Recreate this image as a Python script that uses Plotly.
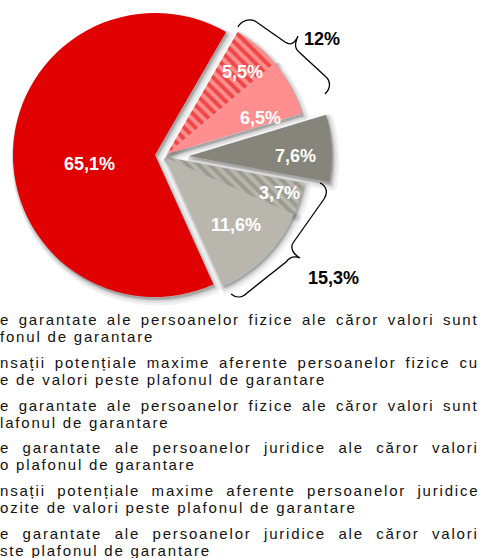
import plotly.graph_objects as go

W, H = 484, 558

# ---------------- data ----------------
labels = [
    "Depozite garantate PF sub plafon",
    "Compensații potențiale maxime PF",
    "Depozite garantate PF peste plafon",
    "Depozite garantate PJ sub plafon",
    "Compensații potențiale maxime PJ",
    "Depozite garantate PJ peste plafon",
]
values = [65.1, 5.5, 6.5, 7.6, 3.7, 11.6]
value_text = ["65,1%", "5,5%", "6,5%", "7,6%", "3,7%", "11,6%"]
group_totals = ["12%", "15,3%"]

legend_line1 = [
    "e garantate ale persoanelor fizice ale căror valori sunt",
    "nsații potențiale maxime aferente persoanelor fizice cu",
    "e garantate ale persoanelor fizice ale căror valori sunt",
    "e garantate ale persoanelor juridice ale căror valori",
    "nsații potențiale maxime aferente persoanelor juridice",
    "e garantate ale persoanelor juridice ale căror valori",
]
legend_line2 = [
    "fonul de garantare",
    "e de valori peste plafonul de garantare",
    "lafonul de garantare",
    "o plafonul de garantare",
    "ozite de valori peste plafonul de garantare",
    "ste plafonul de garantare",
]

# ---------------- styles ----------------
base_colors = ["#E00000", "#FF8F8F", "#FF8F8F", "#85857B", "#B9B6AE", "#B9B6AE"]
pattern_shapes = ["", "\\", "", "", "\\", ""]
pattern_fg = ["#E00000", "#E00000", "#FF8F8F", "#85857B", "#7E7E74", "#B9B6AE"]
ROTATION = 155.7
TRANSPARENT = "rgba(0,0,0,0)"

# slice groups (exploded together): indices, centre (px), radius (px)
groups = [
    ([0], 155, 155, 142),
    ([1, 2], 167, 154, 141),
    ([3], 189, 156, 143),
    ([4, 5], 165, 157, 141),
]


def domain(cx, cy, r):
    return dict(x=[(cx - r) / W, (cx + r) / W], y=[1 - (cy + r) / H, 1 - (cy - r) / H])


def px(x, y):
    return f"{x / W:.5f},{1 - y / H:.5f}"


fig = go.Figure()

# soft shadows
shadow_layers = [(3, 4, 9, 0.05), (2, 3, 6, 0.07), (1, 2, 3, 0.09)]
for dx, dy, lw, a in shadow_layers:
    for idx, cx, cy, r in groups:
        col = f"rgba(0,0,0,{a})"
        fig.add_trace(go.Pie(
            values=values, labels=labels, sort=False, direction="clockwise",
            rotation=ROTATION, textinfo="none", hoverinfo="skip", showlegend=False,
            domain=domain(cx + dx, cy + dy, r),
            marker=dict(
                colors=[col if i in idx else TRANSPARENT for i in range(len(values))],
                line=dict(
                    color=[col if i in idx else TRANSPARENT for i in range(len(values))],
                    width=[lw if i in idx else 0 for i in range(len(values))],
                ),
            ),
        ))

# main slices
for idx, cx, cy, r in groups:
    fig.add_trace(go.Pie(
        values=values, labels=labels, sort=False, direction="clockwise",
        rotation=ROTATION, textinfo="none", hoverinfo="label+value", showlegend=False,
        domain=domain(cx, cy, r),
        marker=dict(
            colors=[base_colors[i] if i in idx else TRANSPARENT for i in range(len(values))],
            line=dict(width=0),
            pattern=dict(
                shape=[pattern_shapes[i] if i in idx else "" for i in range(len(values))],
                fgcolor=pattern_fg,
                fillmode="overlay",
                size=8,
                solidity=0.5,
            ),
        ),
    ))

# slice labels
label_pos = [(89, 164), (242, 72), (260, 118), (295, 156), (279, 193), (236, 225)]
annotations = []
for t, (x, y) in zip(value_text, label_pos):
    annotations.append(dict(
        x=x / W, y=1 - y / H, xref="paper", yref="paper", text=f"<b>{t}</b>",
        showarrow=False, xanchor="center", yanchor="middle",
        font=dict(family="Arial, Liberation Sans", size=18, color="white"),
    ))

# group totals
for t, (x, y) in zip(group_totals, [(322, 39), (333, 278)]):
    annotations.append(dict(
        x=x / W, y=1 - y / H, xref="paper", yref="paper", text=f"<b>{t}</b>",
        showarrow=False, xanchor="center", yanchor="middle",
        font=dict(family="Arial, Liberation Sans", size=18, color="black"),
    ))

# legend text (clipped at the left edge in the reference)
word_spacing = [2.6, 3.0, 2.6, 6.5, 5.4, 6.5]
row_y = [319, 362, 405, 447, 490, 533]
for i in range(len(legend_line1)):
    for j, (txt, ws) in enumerate([(legend_line1[i], word_spacing[i]), (legend_line2[i], 0)]):
        annotations.append(dict(
            x=-2 / W, y=1 - (row_y[i] + j * 17.5) / H, xref="paper", yref="paper",
            text=f'<span style="letter-spacing:1.8px;word-spacing:{ws}px">{txt}</span>',
            showarrow=False, xanchor="left", yanchor="middle", align="left",
            font=dict(family="Arial, Liberation Sans", size=15, color="#111111"),
        ))

# braces
brace1 = ("M " + px(238, 27) + " C " + px(241, 21) + " " + px(249, 18) + " " + px(255, 21)
          + " L " + px(285, 42) + " C " + px(291, 46) + " " + px(295, 43) + " " + px(298, 36)
          + " M " + px(298, 36) + " C " + px(295, 43) + " " + px(294, 48) + " " + px(299, 52)
          + " L " + px(325, 76) + " C " + px(331, 81) + " " + px(331, 88) + " " + px(325, 94))
brace2 = ("M " + px(320, 183) + " C " + px(327, 186) + " " + px(328, 193) + " " + px(324, 199)
          + " L " + px(293, 243) + " C " + px(290, 248) + " " + px(293, 254) + " " + px(300, 258)
          + " M " + px(300, 258) + " C " + px(293, 255) + " " + px(289, 258) + " " + px(286, 262)
          + " L " + px(247, 293) + " C " + px(242, 298) + " " + px(236, 298) + " " + px(231, 294))
shapes = [dict(type="path", xref="paper", yref="paper", path=p,
               line=dict(color="black", width=1.3)) for p in (brace1, brace2)]

fig.update_layout(
    width=W, height=H,
    margin=dict(l=0, r=0, t=0, b=0),
    paper_bgcolor="white", plot_bgcolor="white",
    showlegend=False,
    annotations=annotations,
    shapes=shapes,
)

fig.write_html("out.html", config={"displayModeBar": False},
               post_script="document.body.style.margin='0';")
